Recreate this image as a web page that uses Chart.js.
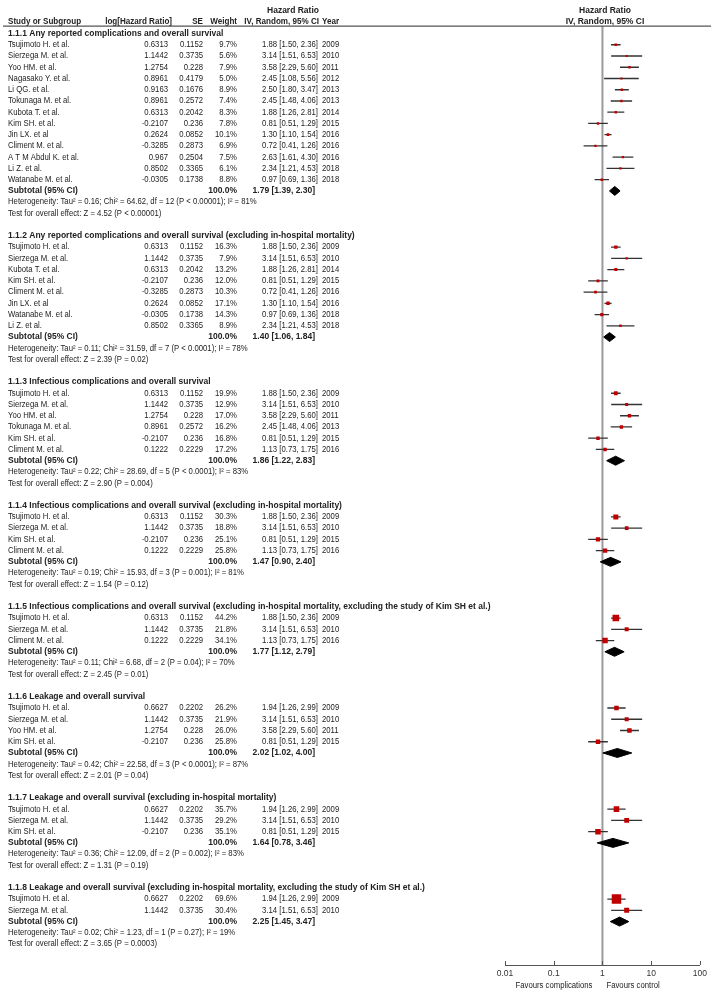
<!DOCTYPE html>
<html>
<head>
<meta charset="utf-8">
<script src="https://cdn.jsdelivr.net/npm/chart.js@4.4.1/dist/chart.umd.min.js"></script>
<style>
  html, body { margin: 0; padding: 0; background: #fff; }
  canvas { display: block; }
</style>
</head>
<body>
<canvas id="forest" width="711" height="992"></canvas>
<script>
// subgroups
var sectionTitles = [
    "1.1.1 Any reported complications and overall survival",
    "1.1.2 Any reported complications and overall survival (excluding in-hospital mortality)",
    "1.1.3 Infectious complications and overall survival",
    "1.1.4 Infectious complications and overall survival (excluding in-hospital mortality)",
    "1.1.5 Infectious complications and overall survival (excluding in-hospital mortality, excluding the study of Kim SH et al.)",
    "1.1.6 Leakage and overall survival",
    "1.1.7 Leakage and overall survival (excluding in-hospital mortality)",
    "1.1.8 Leakage and overall survival (excluding in-hospital mortality, excluding the study of Kim SH et al.)"
];
var subtotalHR = [1.79, 1.40, 1.86, 1.47, 1.77, 2.02, 1.64, 2.25];
var subtotalLow = [1.39, 1.06, 1.22, 0.90, 1.12, 1.02, 0.78, 1.45];
var subtotalHigh = [2.30, 1.84, 2.83, 2.40, 2.79, 4.00, 3.46, 3.47];
var heterogeneity = [
    "Heterogeneity: Tau² = 0.16; Chi² = 64.62, df = 12 (P < 0.00001); I² = 81%",
    "Heterogeneity: Tau² = 0.11; Chi² = 31.59, df = 7 (P < 0.0001); I² = 78%",
    "Heterogeneity: Tau² = 0.22; Chi² = 28.69, df = 5 (P < 0.0001); I² = 83%",
    "Heterogeneity: Tau² = 0.19; Chi² = 15.93, df = 3 (P = 0.001); I² = 81%",
    "Heterogeneity: Tau² = 0.11; Chi² = 6.68, df = 2 (P = 0.04); I² = 70%",
    "Heterogeneity: Tau² = 0.42; Chi² = 22.58, df = 3 (P < 0.0001); I² = 87%",
    "Heterogeneity: Tau² = 0.36; Chi² = 12.09, df = 2 (P = 0.002); I² = 83%",
    "Heterogeneity: Tau² = 0.02; Chi² = 1.23, df = 1 (P = 0.27); I² = 19%"
];
var overallTests = [
    "Test for overall effect: Z = 4.52 (P < 0.00001)",
    "Test for overall effect: Z = 2.39 (P = 0.02)",
    "Test for overall effect: Z = 2.90 (P = 0.004)",
    "Test for overall effect: Z = 1.54 (P = 0.12)",
    "Test for overall effect: Z = 2.45 (P = 0.01)",
    "Test for overall effect: Z = 2.01 (P = 0.04)",
    "Test for overall effect: Z = 1.31 (P = 0.19)",
    "Test for overall effect: Z = 3.65 (P = 0.0003)"
];

// studies, one entry per row
var studySection = [0,0,0,0,0,0,0,0,0,0,0,0,0, 1,1,1,1,1,1,1,1, 2,2,2,2,2,2, 3,3,3,3, 4,4,4, 5,5,5,5, 6,6,6, 7,7];
var studyNames = [
    "Tsujimoto H. et al.", "Sierzega M. et al.", "Yoo HM. et al.", "Nagasako Y. et al.", "Li QG. et al.",
    "Tokunaga M. et al.", "Kubota T. et al.", "Kim SH. et al.", "Jin LX. et al", "Climent M. et al.",
    "A T M Abdul K. et al.", "Li Z. et al.", "Watanabe M. et al.",
    "Tsujimoto H. et al.", "Sierzega M. et al.", "Kubota T. et al.", "Kim SH. et al.", "Climent M. et al.",
    "Jin LX. et al", "Watanabe M. et al.", "Li Z. et al.",
    "Tsujimoto H. et al.", "Sierzega M. et al.", "Yoo HM. et al.", "Tokunaga M. et al.", "Kim SH. et al.", "Climent M. et al.",
    "Tsujimoto H. et al.", "Sierzega M. et al.", "Kim SH. et al.", "Climent M. et al.",
    "Tsujimoto H. et al.", "Sierzega M. et al.", "Climent M. et al.",
    "Tsujimoto H. et al.", "Sierzega M. et al.", "Yoo HM. et al.", "Kim SH. et al.",
    "Tsujimoto H. et al.", "Sierzega M. et al.", "Kim SH. et al.",
    "Tsujimoto H. et al.", "Sierzega M. et al."
];
var logHR = [
    0.6313, 1.1442, 1.2754, 0.8961, 0.9163, 0.8961, 0.6313, -0.2107, 0.2624, -0.3285, 0.967, 0.8502, -0.0305,
    0.6313, 1.1442, 0.6313, -0.2107, -0.3285, 0.2624, -0.0305, 0.8502,
    0.6313, 1.1442, 1.2754, 0.8961, -0.2107, 0.1222,
    0.6313, 1.1442, -0.2107, 0.1222,
    0.6313, 1.1442, 0.1222,
    0.6627, 1.1442, 1.2754, -0.2107,
    0.6627, 1.1442, -0.2107,
    0.6627, 1.1442
];
var seValues = [
    0.1152, 0.3735, 0.228, 0.4179, 0.1676, 0.2572, 0.2042, 0.236, 0.0852, 0.2873, 0.2504, 0.3365, 0.1738,
    0.1152, 0.3735, 0.2042, 0.236, 0.2873, 0.0852, 0.1738, 0.3365,
    0.1152, 0.3735, 0.228, 0.2572, 0.236, 0.2229,
    0.1152, 0.3735, 0.236, 0.2229,
    0.1152, 0.3735, 0.2229,
    0.2202, 0.3735, 0.228, 0.236,
    0.2202, 0.3735, 0.236,
    0.2202, 0.3735
];
var weights = [
    9.7, 5.6, 7.9, 5.0, 8.9, 7.4, 8.3, 7.8, 10.1, 6.9, 7.5, 6.1, 8.8,
    16.3, 7.9, 13.2, 12.0, 10.3, 17.1, 14.3, 8.9,
    19.9, 12.9, 17.0, 16.2, 16.8, 17.2,
    30.3, 18.8, 25.1, 25.8,
    44.2, 21.8, 34.1,
    26.2, 21.9, 26.0, 25.8,
    35.7, 29.2, 35.1,
    69.6, 30.4
];
var hazardRatio = [
    1.88, 3.14, 3.58, 2.45, 2.50, 2.45, 1.88, 0.81, 1.30, 0.72, 2.63, 2.34, 0.97,
    1.88, 3.14, 1.88, 0.81, 0.72, 1.30, 0.97, 2.34,
    1.88, 3.14, 3.58, 2.45, 0.81, 1.13,
    1.88, 3.14, 0.81, 1.13,
    1.88, 3.14, 1.13,
    1.94, 3.14, 3.58, 0.81,
    1.94, 3.14, 0.81,
    1.94, 3.14
];
var ciLow = [
    1.50, 1.51, 2.29, 1.08, 1.80, 1.48, 1.26, 0.51, 1.10, 0.41, 1.61, 1.21, 0.69,
    1.50, 1.51, 1.26, 0.51, 0.41, 1.10, 0.69, 1.21,
    1.50, 1.51, 2.29, 1.48, 0.51, 0.73,
    1.50, 1.51, 0.51, 0.73,
    1.50, 1.51, 0.73,
    1.26, 1.51, 2.29, 0.51,
    1.26, 1.51, 0.51,
    1.26, 1.51
];
var ciHigh = [
    2.36, 6.53, 5.60, 5.56, 3.47, 4.06, 2.81, 1.29, 1.54, 1.26, 4.30, 4.53, 1.36,
    2.36, 6.53, 2.81, 1.29, 1.26, 1.54, 1.36, 4.53,
    2.36, 6.53, 5.60, 4.06, 1.29, 1.75,
    2.36, 6.53, 1.29, 1.75,
    2.36, 6.53, 1.75,
    2.99, 6.53, 5.60, 1.29,
    2.99, 6.53, 1.29,
    2.99, 6.53
];
var years = [
    2009, 2010, 2011, 2012, 2013, 2013, 2014, 2015, 2016, 2016, 2016, 2018, 2018,
    2009, 2010, 2014, 2015, 2016, 2016, 2018, 2018,
    2009, 2010, 2011, 2013, 2015, 2016,
    2009, 2010, 2015, 2016,
    2009, 2010, 2016,
    2009, 2010, 2011, 2015,
    2009, 2010, 2015,
    2009, 2010
];

// axis
var tickValues = [0.01, 0.1, 1, 10, 100];
var tickLabels = ["0.01", "0.1", "1", "10", "100"];

// layout
var FONT = '"Liberation Sans", Arial, sans-serif';
var FONT_SIZE = 8.5;
var SX = 0.91;            // plain text is a bit squeezed in the original
var SX_BOLD = 1.0;
var SX_HEAD = 0.95;
var ROW_PX = 11.32;
var FIRST_ROW_PX = 27;
var AXIS_PX = 965;
var Y_MIN = -FIRST_ROW_PX / ROW_PX;
var Y_MAX = (AXIS_PX - FIRST_ROW_PX) / ROW_PX;
var HEADER_LINE_ROW = -0.66;
var TEXT_COLOR = "#222";

// row numbers, one line each, blank line between subgroups
var rowHead = [], rowSub = [], rowHet = [], rowTest = [], rowStudy = [];
var r = 0;
for (var s = 0; s < sectionTitles.length; s++) {
    rowHead.push(r++);
    for (var i = 0; i < studySection.length; i++) {
        if (studySection[i] == s) rowStudy[i] = r++;
    }
    rowSub.push(r++);
    rowHet.push(r++);
    rowTest.push(r++);
    r++;
}

function sideToRadius(w) {
    var side = 1.5 + 0.115 * w;
    return side / Math.SQRT2;
}

var squares = {
    label: "studies",
    data: hazardRatio.map((hr, i) => ({ x: hr, y: rowStudy[i] })),
    pointStyle: "rect",
    pointRadius: weights.map(sideToRadius),
    pointBackgroundColor: "#c00000",
    pointBorderWidth: 0,
    showLine: false,
    order: 0
};

var whiskerData = [];
ciLow.forEach((lo, i) => {
    whiskerData.push({ x: lo, y: rowStudy[i] });
    whiskerData.push({ x: ciHigh[i], y: rowStudy[i] });
    whiskerData.push({ x: null, y: null });
});
var whiskers = {
    label: "ci",
    data: whiskerData,
    showLine: true,
    spanGaps: false,
    borderColor: "#333",
    borderWidth: 1.3,
    pointRadius: 0,
    order: 2
};

var diamonds = subtotalHR.map((hr, s) => ({
    label: "subtotal " + s,
    data: [
        { x: subtotalLow[s], y: rowSub[s] },
        { x: hr, y: rowSub[s] - 0.4 },
        { x: subtotalHigh[s], y: rowSub[s] },
        { x: hr, y: rowSub[s] + 0.4 },
        { x: subtotalLow[s], y: rowSub[s] }
    ],
    showLine: true,
    fill: "shape",
    backgroundColor: "#000",
    borderColor: "#000",
    borderWidth: 1,
    pointRadius: 0,
    order: 1
}));

var refLine = {
    label: "no effect",
    data: [{ x: 1, y: HEADER_LINE_ROW }, { x: 1, y: Y_MAX }],
    showLine: true,
    borderColor: "#9a9a9a",
    borderWidth: 2,
    pointRadius: 0,
    order: 3
};

function txt(ctx, str, x, y, align, bold, sx) {
    sx = sx || (bold ? SX_BOLD : SX);
    ctx.save();
    ctx.font = (bold ? "bold " : "") + FONT_SIZE + "px " + FONT;
    ctx.fillStyle = TEXT_COLOR;
    ctx.textBaseline = "middle";
    ctx.textAlign = align;
    ctx.scale(sx, 1);
    ctx.fillText(str, x / sx, y);
    ctx.restore();
}

var tablePlugin = {
    id: "table",
    afterDraw(chart) {
        var ctx = chart.ctx;
        var ys = chart.scales.y;
        var xs = chart.scales.x;
        var area = chart.chartArea;

        // header
        var yh1 = ys.getPixelForValue(-2.0);
        var yh2 = ys.getPixelForValue(-1.1);
        txt(ctx, "Hazard Ratio", 293, yh1, "center", true);
        txt(ctx, "Hazard Ratio", 605, yh1, "center", true);
        txt(ctx, "Study or Subgroup", 8, yh2, "left", true, SX_HEAD);
        txt(ctx, "log[Hazard Ratio]", 172, yh2, "right", true, SX_HEAD);
        txt(ctx, "SE", 203, yh2, "right", true, SX_HEAD);
        txt(ctx, "Weight", 237, yh2, "right", true, SX_HEAD);
        txt(ctx, "IV, Random, 95% CI", 319, yh2, "right", true, SX_HEAD);
        txt(ctx, "Year", 322, yh2, "left", true, SX_HEAD);
        txt(ctx, "IV, Random, 95% CI", 605, yh2, "center", true);

        var yl = ys.getPixelForValue(HEADER_LINE_ROW);
        ctx.save();
        ctx.strokeStyle = "#555";
        ctx.lineWidth = 1.2;
        ctx.beginPath();
        ctx.moveTo(3, yl);
        ctx.lineTo(711, yl);
        ctx.stroke();
        ctx.restore();

        // studies
        studyNames.forEach((name, i) => {
            var y = ys.getPixelForValue(rowStudy[i]);
            txt(ctx, name, 8, y, "left", false);
            txt(ctx, String(logHR[i]), 168, y, "right", false);
            txt(ctx, String(seValues[i]), 203, y, "right", false);
            txt(ctx, weights[i].toFixed(1) + "%", 237, y, "right", false);
            txt(ctx, hazardRatio[i].toFixed(2) + " [" + ciLow[i].toFixed(2) + ", " + ciHigh[i].toFixed(2) + "]", 318, y, "right", false);
            txt(ctx, String(years[i]), 322, y, "left", false);
        });

        // subgroup rows
        sectionTitles.forEach((title, s) => {
            txt(ctx, title, 8, ys.getPixelForValue(rowHead[s]), "left", true);
            var y = ys.getPixelForValue(rowSub[s]);
            txt(ctx, "Subtotal (95% CI)", 8, y, "left", true);
            txt(ctx, "100.0%", 237, y, "right", true);
            txt(ctx, subtotalHR[s].toFixed(2) + " [" + subtotalLow[s].toFixed(2) + ", " + subtotalHigh[s].toFixed(2) + "]", 315, y, "right", true);
            txt(ctx, heterogeneity[s], 8, ys.getPixelForValue(rowHet[s]), "left", false);
            txt(ctx, overallTests[s], 8, ys.getPixelForValue(rowTest[s]), "left", false);
        });

        // tick marks pointing up from the axis
        ctx.save();
        ctx.strokeStyle = "#555";
        ctx.lineWidth = 1;
        tickValues.forEach(v => {
            var px = Math.round(xs.getPixelForValue(v)) + 0.5;
            ctx.beginPath();
            ctx.moveTo(px, area.bottom);
            ctx.lineTo(px, area.bottom - 4);
            ctx.stroke();
        });
        ctx.restore();

        var x1 = xs.getPixelForValue(1);
        txt(ctx, "Favours complications", x1 - 10, area.bottom + 21, "right", false);
        txt(ctx, "Favours control", x1 + 4, area.bottom + 21, "left", false);
    }
};

var ctx = document.getElementById("forest").getContext("2d");
var forestChart = new Chart(ctx, {
    type: "scatter",
    data: {
        datasets: [squares].concat(diamonds, [whiskers, refLine])
    },
    options: {
        responsive: false,
        animation: false,
        layout: {
            padding: { left: 505, right: 8, top: 0, bottom: 0 }
        },
        plugins: {
            legend: { display: false },
            tooltip: { enabled: false }
        },
        scales: {
            x: {
                type: "logarithmic",
                min: 0.01,
                max: 100,
                afterBuildTicks: scale => {
                    scale.ticks = tickValues.map(v => ({ value: v }));
                },
                afterFit: scale => {
                    scale.height = 27;
                },
                ticks: {
                    autoSkip: false,
                    maxRotation: 0,
                    padding: 4,
                    color: "#333",
                    font: { family: FONT, size: 8.5 },
                    callback: (v, i) => tickLabels[i]
                },
                grid: { drawOnChartArea: false, drawTicks: false },
                border: { color: "#555", width: 1 }
            },
            y: {
                type: "linear",
                display: false,
                reverse: true,
                min: Y_MIN,
                max: Y_MAX
            }
        }
    },
    plugins: [tablePlugin]
});
</script>
</body>
</html>
